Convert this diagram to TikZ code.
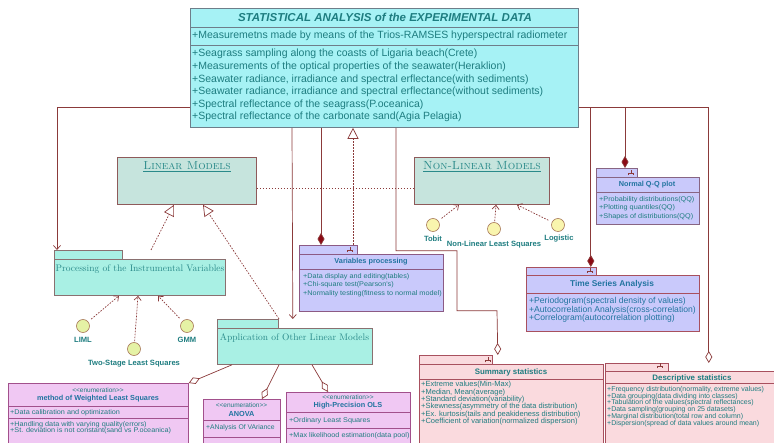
\documentclass[tikz,border=0pt]{standalone}
\usepackage{fontspec}
\newfontfamily\tah{Liberation Sans}
\newfontfamily\tahV{Liberation Sans}[FakeStretch=1.07]
\usetikzlibrary{arrows.meta,calc}
\definecolor{cyanfill}{HTML}{A6F2F5}
\definecolor{cyanbd}{HTML}{6E7E8A}
\definecolor{txtc}{HTML}{1E7D80}
\definecolor{txtb}{HTML}{2274A0}
\definecolor{pkt}{HTML}{2A8A8A}
\definecolor{lmfill}{HTML}{C6E4DD}
\definecolor{lmbd}{HTML}{8E5A5A}
\definecolor{pkfill}{HTML}{A9F0E4}
\definecolor{pkbd}{HTML}{8A7070}
\definecolor{lavfill}{HTML}{C9C9FB}
\definecolor{lavbd}{HTML}{8C5A84}
\definecolor{enfill}{HTML}{F0C8F3}
\definecolor{enbd}{HTML}{A2508C}
\definecolor{pinkfill}{HTML}{FADADE}
\definecolor{pinkbd}{HTML}{A8505E}
\definecolor{lc}{HTML}{8B3A3A}
\definecolor{dia}{HTML}{8B0A14}
\definecolor{yel}{HTML}{F9F5AE}
\definecolor{yelg}{HTML}{E5F2A5}
\definecolor{lolbd}{HTML}{A87858}
\newcommand\forkicon[2]{\draw[lc,line width=0.6pt,shift={(#1,#2)}] (0,-2.5)--(0,0) (-2.5,2.5)--(-2.5,0)--(2.5,0)--(2.5,2.5);}
\tikzset{
  box/.style={anchor=north west, inner sep=0, line width=0.8pt},
  lbl/.style={inner sep=0},
  conn/.style={draw=lc, line width=0.7pt},
  dsh/.style={conn, dash pattern=on 1.6pt off 1.4pt},
  openv/.style={-{Straight Barb[length=4pt,width=7pt]}},
  tri/.style={-{Triangle[open,length=11pt,width=11pt]}},
  fdia/.style={-{Diamond[length=12pt,width=7pt,fill=dia]}},
  odia/.style={-{Diamond[length=12pt,width=7pt,fill=white]}},
  lol/.style={circle, draw=lolbd, line width=0.6pt, minimum size=13pt, inner sep=0},
  lolt/.style={lbl, font=\tah\bfseries\fontsize{7.6}{9}\selectfont, text=txtc},
  pkg/.style={lbl, font=\fontsize{9.5}{11}\selectfont, text=pkt},
  sm/.style={lbl, anchor=west, font=\tahV\fontsize{6.8}{8}\selectfont, text=txtc},
  smS/.style={lbl, anchor=west, font=\tah\fontsize{7.5}{8}\selectfont, text=txtc},
  smD/.style={lbl, anchor=west, font=\tah\fontsize{7.0}{8}\selectfont, text=txtc},
  smb/.style={lbl, font=\tah\bfseries\fontsize{7.3}{9}\selectfont, text=txtb},
}
\begin{document}
\begin{tikzpicture}[x=1pt,y=-1pt]
\useasboundingbox (0,0) rectangle (774,443);
\clip (0,0) rectangle (774,443);
\fill[white] (0,0) rectangle (774,443);

% ---------- main box
\node[box, draw=cyanbd, fill=cyanfill, minimum width=388pt, minimum height=119pt] (main) at (190,8) {};
\draw[cyanbd, line width=0.8pt] (190,27) -- (578,27) (190,45) -- (578,45);
\node[lbl, font=\tah\bfseries\itshape\fontsize{11.5}{13}\selectfont, text=txtc] (mainT) at (385,17.5) {STATISTICAL ANALYSIS of the EXPERIMENTAL DATA};
\node[lbl, anchor=west, font=\tah\fontsize{10.5}{12}\selectfont, text=txtc] (mainA) at (192,36) {+Measuremetns made by means of the Trios-RAMSES hyperspectral radiometer};
\node[lbl, anchor=north west, align=left, font=\tah\fontsize{10.5}{12.6}\selectfont, text=txtc] (mainB) at (192,49) {+Seagrass sampling along the coasts of Ligaria beach(Crete)\\+Measurements of the optical properties of the seawater(Heraklion)\\+Seawater radiance, irradiance and spectral erflectance(with sediments)\\+Seawater radiance, irradiance and spectral erflectance(without sediments)\\+Spectral reflectance of the seagrass(P.oceanica)\\+Spectral reflectance of the carbonate sand(Agia Pelagia)};

% ---------- model boxes
\node[box, draw=lmbd, fill=lmfill, minimum width=139pt, minimum height=47pt] (lin) at (117,157) {};
\node[pkg, font=\fontsize{11.6}{13}\selectfont] (linT) at (187,167) {\underline{\textsc{Linear Models}}};
\node[box, draw=lmbd, fill=lmfill, minimum width=135pt, minimum height=47pt] (nonlin) at (414,157) {};
\node[pkg, font=\fontsize{11.8}{13}\selectfont] (nonlinT) at (482,167) {\underline{\textsc{Non-Linear Models}}};

% ---------- packages
\node[box, draw=pkbd, fill=pkfill, minimum width=68pt, minimum height=9pt] (procTab) at (54,250) {};
\node[box, draw=pkbd, fill=pkfill, minimum width=171pt, minimum height=36pt] (proc) at (54,259) {};
\node[pkg] (procT) at (140,269) {Processing of the Instrumental Variables};
\node[box, draw=pkbd, fill=pkfill, minimum width=61pt, minimum height=9pt] (appTab) at (217,319) {};
\node[box, draw=pkbd, fill=pkfill, minimum width=155pt, minimum height=36pt] (app) at (217,328) {};
\node[pkg] (appT) at (294.5,338.5) {Application of Other Linear Models};

% ---------- lollipops
\node[lol, fill=yel] (tobit) at (433,225) {};
\node[lolt] (tobitT) at (433,239) {Tobit};
\node[lol, fill=yel] (nlls) at (494,229) {};
\node[lolt] (nllsT) at (494,245) {Non-Linear Least Squares};
\node[lol, fill=yel] (logit) at (558,225) {};
\node[lolt] (logitT) at (559,239) {Logistic};
\node[lol, fill=yelg] (liml) at (83,326) {};
\node[lolt] (limlT) at (83,340) {LIML};
\node[lol, fill=yelg] (gmm) at (187,326) {};
\node[lolt] (gmmT) at (187,340) {GMM};
\node[lol, fill=yelg] (tsls) at (134,349) {};
\node[lolt] (tslsT) at (134,364) {Two-Stage Least Squares};

% ---------- Variables processing
\node[box, draw=lavbd, fill=lavfill, minimum width=58pt, minimum height=9pt] (vpTab) at (299,245) {};
\node[box, draw=lavbd, fill=lavfill, minimum width=144pt, minimum height=57pt] (vp) at (299,254) {};
\draw[lavbd, line width=0.8pt] (299,269) -- (443,269);
\node[smb] (vpT) at (371,262) {Variables processing};
\node[sm] (vp1) at (303,276.5) {+Data display and editing(tables)};
\node[sm] (vp2) at (303,285) {+Chi-square test(Pearson's)};
\node[sm] (vp3) at (303,293.5) {+Normality testing(fitness to normal model)};
\forkicon{350}{250}

% ---------- Normal Q-Q plot
\node[box, draw=lavbd!70!gray, fill=lavfill, minimum width=41pt, minimum height=9pt] (qqTab) at (596,168) {};
\node[box, draw=lavbd!70!gray, fill=lavfill, minimum width=103pt, minimum height=47pt] (qq) at (596,177) {};
\draw[lavbd!70!gray, line width=0.8pt] (596,192) -- (699,192);
\node[smb] (qqT) at (647,184.5) {Normal Q-Q plot};
\node[sm] (qq1) at (599,199.5) {+Probability distributions(QQ)};
\node[sm] (qq2) at (599,208) {+Plotting quantiles(QQ)};
\node[sm] (qq3) at (599,216.5) {+Shapes of distributions(QQ)};
\forkicon{631}{173}

% ---------- Time Series Analysis
\node[box, draw=pinkbd, fill=lavfill, minimum width=70pt, minimum height=8pt] (tsTab) at (526,267) {};
\node[box, draw=pinkbd, fill=lavfill, minimum width=173pt, minimum height=56pt] (ts) at (526,275) {};
\draw[pinkbd, line width=0.8pt] (526,293) -- (699,293);
\node[smb, font=\tah\bfseries\fontsize{8.4}{10}\selectfont] (tsT) at (612,284) {Time Series Analysis};
\node[sm, font=\tah\fontsize{8.6}{9}\selectfont, text=txtb] (ts1) at (529,301.5) {+Periodogram(spectral density of values)};
\node[sm, font=\tah\fontsize{8.6}{9}\selectfont, text=txtb] (ts2) at (529,310) {+Autocorrelation Analysis(cross-correlation)};
\node[sm, font=\tah\fontsize{8.6}{9}\selectfont, text=txtb] (ts3) at (529,318.5) {+Correlogram(autocorrelation plotting)};
\forkicon{590}{271}

% ---------- Summary statistics
\node[box, draw=pinkbd, fill=pinkfill, minimum width=73pt, minimum height=9pt] (sumTab) at (419,355) {};
\node[box, draw=pinkbd, fill=pinkfill, minimum width=184pt, minimum height=90pt] (sum) at (419,364) {};
\draw[pinkbd, line width=0.8pt] (419,379) -- (603,379);
\node[smb, text=txtc, font=\tah\bfseries\fontsize{7.9}{9}\selectfont] (sumT) at (511,372.5) {Summary statistics};
\node[smS] (s1) at (421,385) {+Extreme values(Min-Max)};
\node[smS] (s2) at (421,392.3) {+Median, Mean(average)};
\node[smS] (s3) at (421,399.6) {+Standard deviation(variability)};
\node[smS] (s4) at (421,406.9) {+Skewness(asymmetry of the data distribution)};
\node[smS] (s5) at (421,414.2) {+Ex. kurtosis(tails and peakideness distribution)};
\node[smS] (s6) at (421,421.5) {+Coefficient of variation(normalized dispersion)};
\forkicon{488}{360}

% ---------- Descriptive statistics
\node[box, draw=pinkbd, fill=pinkfill, minimum width=63pt, minimum height=8pt] (dsTab) at (605,363) {};
\node[box, draw=pinkbd, fill=pinkfill, minimum width=169pt, minimum height=90pt] (ds) at (605,371) {};
\draw[pinkbd, line width=0.8pt] (605,383) -- (774,383);
\node[smb, text=txtc, font=\tah\bfseries\fontsize{7.9}{9}\selectfont] (dsT) at (692,378) {Descriptive statistics};
\node[smD] (d1) at (607,389.5) {+Frequency distribution(normality, extreme values)};
\node[smD] (d2) at (607,396.3) {+Data grouping(data dividing into classes)};
\node[smD] (d3) at (607,403) {+Tabulation of the values(spectral reflectances)};
\node[smD] (d4) at (607,409.8) {+Data sampling(grouping on 25 datasets)};
\node[smD] (d5) at (607,416.5) {+Marginal distribution(total row and column)};
\node[smD] (d6) at (607,423.3) {+Dispersion(spread of data values around mean)};
\forkicon{660}{366}

% ---------- enumerations
\node[box, draw=enbd, fill=enfill, minimum width=180pt, minimum height=70pt] (wls) at (8,383) {};
\node[lbl, font=\tah\fontsize{6.5}{8}\selectfont, text=txtc] (wlsE) at (98,390) {<<enumeration>>};
\node[smb] (wlsT) at (98,398.5) {method of Weighted Least Squares};
\draw[enbd, line width=0.8pt] (8,406) -- (188,406) (8,418) -- (188,418);
\node[sm] (w1) at (10,412.5) {+Data calibration and optimization};
\node[sm] (w2) at (10,424.5) {+Handling data with varying quality(errors)};
\node[sm] (w3) at (10,431) {+St. deviation is not constant(sand vs P.oceanica)};

\node[box, draw=enbd, fill=enfill, minimum width=77pt, minimum height=60pt] (anova) at (203,399) {};
\node[lbl, font=\tah\fontsize{6.5}{8}\selectfont, text=txtc] (anovaE) at (241.5,405.5) {<<enumeration>>};
\node[smb] (anovaT) at (241.5,413.5) {ANOVA};
\draw[enbd, line width=0.8pt] (203,420) -- (280,420) (203,437) -- (280,437);
\node[sm, font=\tah\fontsize{6.8}{8}\selectfont] (a1) at (206,427.5) {+ANalysis Of VAriance};

\node[box, draw=enbd, fill=enfill, minimum width=124pt, minimum height=60pt] (hp) at (286,392) {};
\node[lbl, font=\tah\fontsize{6.5}{8}\selectfont, text=txtc] (hpE) at (348,397.5) {<<enumeration>>};
\node[smb] (hpT) at (348,405.5) {High-Precision OLS};
\draw[enbd, line width=0.8pt] (286,412) -- (410,412) (286,428) -- (410,428);
\node[sm] (h1) at (289,420.5) {+Ordinary Least Squares};
\node[sm] (h2) at (289,436) {+Max likelihood estimation(data pool)};

% ---------- connectors
\draw[dsh] ($(lin.north east)+(0,31)$) -- ($(nonlin.north west)+(0,31)$);
\draw[conn, openv] ($(main.north west)+(0,99)$) -| ($(procTab.north west)+(3,0)$);
\draw[conn, openv] ($(main.south west)+(102,0)$) -- ($(appTab.north east)+(14,0)$);
\draw[conn, fdia] ($(main.south west)+(131,0)$) -- ($(vpTab.north west)+(22,0)$);
\draw[dsh, tri] ($(vpTab.north west)+(54,0)$) -- ($(main.south west)+(163,0)$);
\draw[conn, odia] ($(main.south west)+(206,0)$) -- ++(0,123) -- ++(61,0) -- ++(0,60) -- ++(40,0) -- ($(sumTab.north east)+(5,0)$);
\draw[conn, fdia] ($(main.north east)+(0,99)$) -| ($(tsTab.north east)+(-6,0)$);
\draw[conn, fdia] ($(main.north east)+(0,99)$) -| ($(qqTab.north west)+(29,0)$);
\draw[conn, odia] ($(main.north east)+(0,99)$) -| ($(dsTab.north east)+(40,0)$);

\draw[dsh, tri] ($(procTab.north west)+(97,0)$) -- ($(lin.south west)+(57,0)$);
\draw[dsh, tri] ($(appTab.north west)+(62,0)$) -- ($(lin.south west)+(86,0)$);

\draw[dsh, openv, shorten <=4pt] (tobit) -- ($(nonlin.south west)+(45,0)$);
\draw[dsh, openv, shorten <=1pt] (nlls) -- ($(nonlin.south west)+(82,0)$);
\draw[dsh, openv, shorten <=4pt] (logit) -- ($(nonlin.south west)+(103,0)$);
\draw[dsh, openv, shorten <=4pt] (liml) -- ($(proc.south west)+(65,0)$);
\draw[dsh, openv, shorten <=1pt] (tsls) -- ($(proc.south west)+(84,0)$);
\draw[dsh, openv, shorten <=4pt] (gmm) -- ($(proc.south west)+(104,0)$);

\draw[conn, odia] ($(app.south west)+(15,0)$) -- (wls.north east);
\draw[conn, odia] ($(app.south west)+(62,0)$) -- ($(anova.north west)+(59,0)$);
\draw[conn, odia] ($(app.south west)+(95,0)$) -- ($(hp.north west)+(42,0)$);
\end{tikzpicture}
\end{document}
